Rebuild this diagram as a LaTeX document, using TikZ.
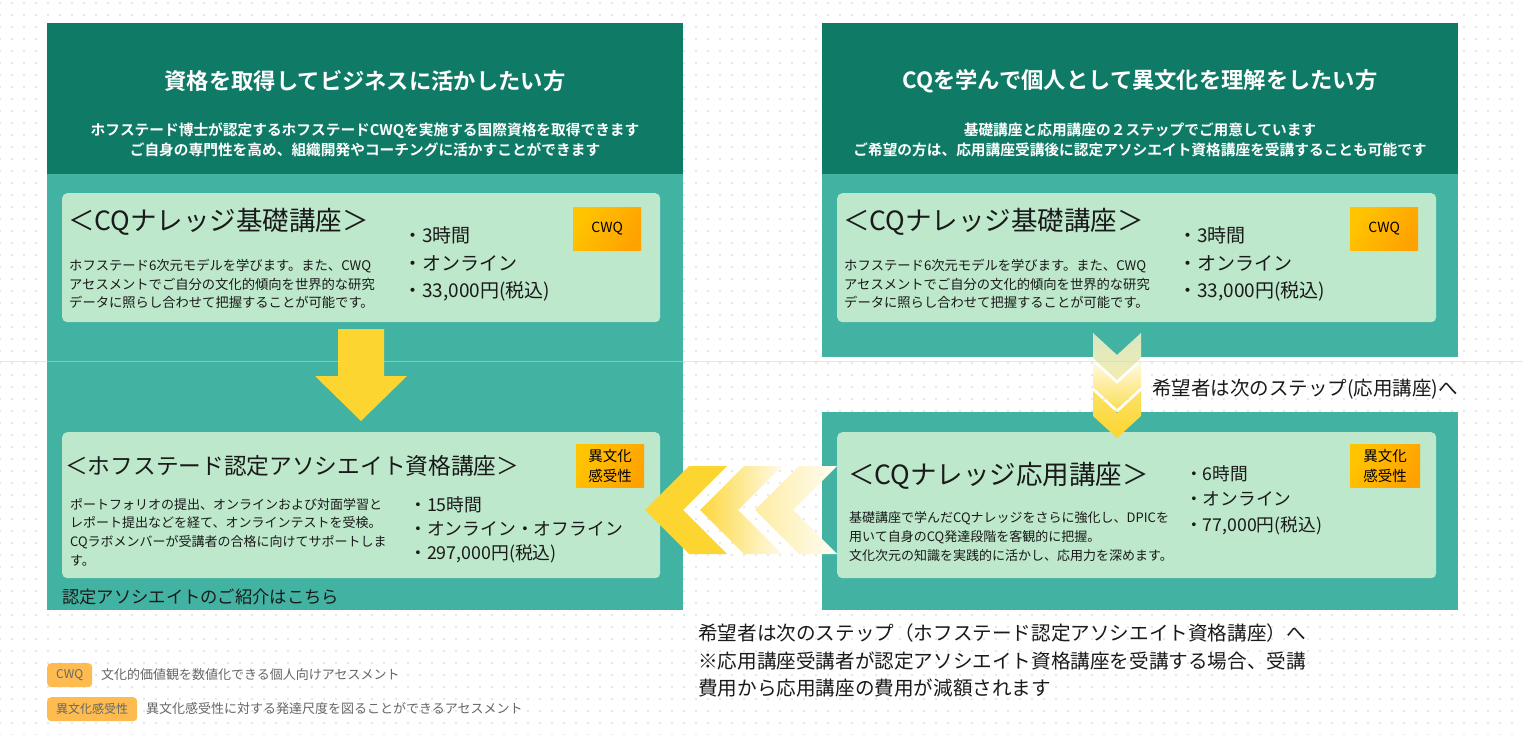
\documentclass[tikz,border=0pt]{standalone}
\usepackage{fontspec}
\setmainfont{Noto Sans CJK JP}[BoldFont={Noto Sans CJK JP Bold}]
\usetikzlibrary{patterns.meta}
\definecolor{dkgreen}{HTML}{0F7B66}
\definecolor{tealbg}{HTML}{42B3A2}
\definecolor{cardc}{HTML}{BDE8CB}
\definecolor{yel}{HTML}{FCD530}
\definecolor{orgA}{HTML}{FFC400}
\definecolor{orgB}{HTML}{FFA200}
\definecolor{legorg}{HTML}{FDBB50}
\definecolor{legtext}{HTML}{666666}
\definecolor{dotc}{HTML}{E0E0E0}
\definecolor{txt}{HTML}{1A1A1A}
\newcommand{\fs}[2]{\fontsize{#1}{#2}\selectfont}
\tikzset{
  cardbox/.style={fill=cardc, rounded corners=5pt, draw=none, anchor=north west, inner sep=0pt},
  badgebox/.style={shading=axis, left color=orgA, right color=orgB, shading angle=60, draw=none, anchor=north west, inner sep=0pt, align=center, text=black, font=\fs{14}{20}},
  legbadge/.style={fill=legorg, rounded corners=4pt, draw=none, anchor=north west, inner sep=0pt, text=legtext, font=\fs{12}{14}},
  hdtitle/.style={text=white, font=\bfseries\fs{22.3}{26}, inner sep=0pt},
  hdsub/.style={text=white, font=\bfseries\fs{14.7}{20}, inner sep=0pt, align=center},
  ctitle/.style={text=txt, font=\fs{26.5}{30}, anchor=west, inner sep=0pt},
  cdesc/.style={text=txt, font=\fs{13.3}{18.3}, anchor=west, inner sep=0pt, align=left},
  cbul/.style={text=txt, font=\fs{19}{27.5}, anchor=west, inner sep=0pt, align=left},
  plain/.style={text=txt, anchor=west, inner sep=0pt, align=left},
}
\begin{document}
\begin{tikzpicture}[x=1pt,y=-1pt]
\useasboundingbox (0,0) rectangle (1523,735);
\fill[white] (0,0) rectangle (1523,735);
\fill[pattern={Dots[distance=12pt,radius=1.1pt]}, pattern color=dotc] (0,0) rectangle (1523,735);

% panels
\fill[tealbg] (47,23) rectangle (683,610);
\fill[dkgreen] (47,23) rectangle (683,174);
\fill[tealbg] (822,23) rectangle (1458,357);
\fill[dkgreen] (822,23) rectangle (1458,174);
\fill[tealbg] (822,412) rectangle (1458,610);

% headers
\node[hdtitle] (lh) at (365,81) {資格を取得してビジネスに活かしたい方};
\node[hdsub] (ls) at (365,140) {ホフステード博士が認定するホフステードCWQを実施する国際資格を取得できます\\ご自身の専門性を高め、組織開発やコーチングに活かすことができます};
\node[hdtitle] (rh) at (1140,81) {CQを学んで個人として異文化を理解をしたい方};
\node[hdsub] (rs) at (1140,140) {基礎講座と応用講座の２ステップでご用意しています\\ご希望の方は、応用講座受講後に認定アソシエイト資格講座を受講することも可能です};

% cards
\node[cardbox, minimum width=598pt, minimum height=129pt] (lc1) at (62,193) {};
\node[cardbox, minimum width=599pt, minimum height=129pt] (rc1) at (837,193) {};
\node[cardbox, minimum width=598pt, minimum height=146pt] (lc2) at (62,432) {};
\node[cardbox, minimum width=599pt, minimum height=146pt] (rc2) at (837,432) {};

% down arrow (left)
\fill[yel] (338,329) -- (384,329) -- (384,376) -- (407,376) -- (361,421) -- (315,376) -- (338,376) -- cycle;

% down chevrons (right)
\shade[top color={rgb,255:red,214;green,232;blue,196}, bottom color={rgb,255:red,246;green,236;blue,176}]
  (1093,333) -- (1117,355) -- (1141,333) -- (1141,358) -- (1117,380) -- (1093,358) -- cycle;
\shade[top color={rgb,255:red,255;green,250;blue,225}, bottom color={rgb,255:red,252;green,222;blue,90}]
  (1093,362) -- (1117,384) -- (1141,362) -- (1141,387) -- (1117,409) -- (1093,387) -- cycle;
\shade[top color={rgb,255:red,252;green,226;blue,100}, bottom color=yel]
  (1093,391) -- (1117,413) -- (1141,391) -- (1141,416) -- (1117,438) -- (1093,416) -- cycle;

% left chevrons
\fill[yel] (645,510) -- (689,466) -- (727,466) -- (683,510) -- (727,554) -- (689,554) -- cycle;
\shade[left color=yel!95, right color=yel!10]
  (700,510) -- (744,466) -- (782,466) -- (738,510) -- (782,554) -- (744,554) -- cycle;
\shade[left color=yel!45, right color=yel!5]
  (755,510) -- (799,466) -- (837,466) -- (793,510) -- (837,554) -- (799,554) -- cycle;

% faint separator line
\draw[line width=1pt, color={rgb,255:red,205;green,212;blue,220}, opacity=0.55] (0,361) -- (1523,361);

% left card 1
\node[ctitle] (lt1) at (68,222) {＜CQナレッジ基礎講座＞};
\node[cdesc] (ld1) at (69,284) {ホフステード6次元モデルを学びます。また、CWQ\\アセスメントでご自分の文化的傾向を世界的な研究\\データに照らし合わせて把握することが可能です。};
\node[cbul] (lb1) at (403,264) {・3時間\\・オンライン\\・33,000円(税込)};
\node[badgebox, minimum width=68pt, minimum height=43pt] (lbg1) at (573,207) {CWQ};

% right card 1
\node[ctitle] (rt1) at (843,222) {＜CQナレッジ基礎講座＞};
\node[cdesc] (rd1) at (844,284) {ホフステード6次元モデルを学びます。また、CWQ\\アセスメントでご自分の文化的傾向を世界的な研究\\データに照らし合わせて把握することが可能です。};
\node[cbul] (rb1) at (1178,264) {・3時間\\・オンライン\\・33,000円(税込)};
\node[badgebox, minimum width=68pt, minimum height=43pt] (rbg1) at (1350,207) {CWQ};

% left card 2
\node[ctitle, font=\fs{22.7}{30}] (lt2) at (65,466) {＜ホフステード認定アソシエイト資格講座＞};
\node[cdesc, font=\fs{13}{18.7}] (ld2) at (70,532) {ポートフォリオの提出、オンラインおよび対面学習と\\レポート提出などを経て、オンラインテストを受検。\\CQラボメンバーが受講者の合格に向けてサポートしま\\す。};
\node[cbul, font=\fs{17.8}{24}] (lb2) at (409,530) {・15時間\\・オンライン・オフライン\\・297,000円(税込)};
\node[badgebox, minimum width=68pt, minimum height=43pt, font=\fs{14.5}{20}] (lbg2) at (576,444) {異文化\\感受性};
\node[plain, font=\fs{17.3}{20}] (link) at (62,597) {認定アソシエイトのご紹介はこちら};

% right card 2
\node[ctitle] (rt2) at (848,476) {＜CQナレッジ応用講座＞};
\node[cdesc, font=\fs{13}{19}] (rd2) at (849,537) {基礎講座で学んだCQナレッジをさらに強化し、DPICを\\用いて自身のCQ発達段階を客観的に把握。\\文化次元の知識を実践的に活かし、応用力を深めます。};
\node[cbul, font=\fs{17.7}{25.5}] (rb2) at (1185,500) {・6時間\\・オンライン\\・77,000円(税込)};
\node[badgebox, minimum width=70pt, minimum height=43pt, font=\fs{14.5}{20}] (rbg2) at (1350,444) {異文化\\感受性};

% step labels
\node[plain, font=\fs{19.5}{22}] (step1) at (1152,389) {希望者は次のステップ(応用講座)へ};
\node[plain, font=\fs{19.6}{27.5}, anchor=north west] (step2) at (698,624) {希望者は次のステップ（ホフステード認定アソシエイト資格講座）へ\\※応用講座受講者が認定アソシエイト資格講座を受講する場合、受講\\費用から応用講座の費用が減額されます};

% legend
\node[legbadge, minimum width=45pt, minimum height=24pt] (lg1) at (47,663) {CWQ};
\node[plain, text=legtext, font=\fs{13}{15}] (lgt1) at (101,675) {文化的価値観を数値化できる個人向けアセスメント};
\node[legbadge, minimum width=90pt, minimum height=24pt] (lg2) at (47,697) {異文化感受性};
\node[plain, text=legtext, font=\fs{13}{15}] (lgt2) at (146,709) {異文化感受性に対する発達尺度を図ることができるアセスメント};
\end{tikzpicture}
\end{document}
